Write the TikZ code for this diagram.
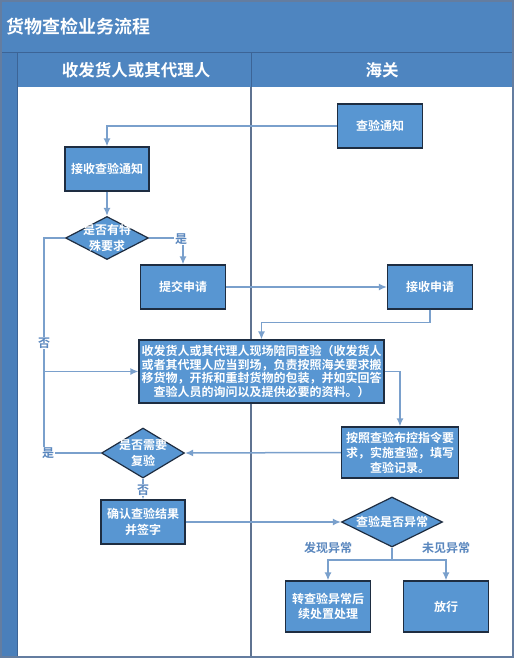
\documentclass[tikz,border=0pt]{standalone}
\usepackage{fontspec}
\setmainfont{Noto Sans CJK SC}[BoldFont={Noto Sans CJK SC Bold}]
\usetikzlibrary{shapes.geometric,arrows.meta}
\definecolor{band}{RGB}{78,133,192}
\definecolor{strip}{RGB}{74,127,186}
\definecolor{bandline}{RGB}{60,100,150}
\definecolor{boxfill}{RGB}{88,150,210}
\definecolor{boxline}{RGB}{30,45,65}
\definecolor{conn}{RGB}{122,160,204}
\definecolor{lbl}{RGB}{90,135,190}
\definecolor{framec}{RGB}{100,125,160}
\definecolor{divider}{RGB}{95,115,145}
\begin{document}
\begin{tikzpicture}[x=1pt,y=-1pt,
  box/.style={draw=boxline,fill=boxfill,line width=1.2pt,text=white,font={\bfseries\fontsize{12pt}{15pt}\selectfont},align=center,inner sep=0pt},
  dia/.style={diamond,draw=boxline,fill=boxfill,line width=1.2pt,inner sep=0pt},
  dtext/.style={text=white,font={\bfseries\fontsize{12pt}{16pt}\selectfont},align=center,inner sep=0pt},
  link/.style={draw=conn,line width=1.5pt,-{Latex[length=8pt,width=7pt]}},
  plainlink/.style={draw=conn,line width=1.5pt},
  lab/.style={text=lbl,font={\bfseries\fontsize{12pt}{14pt}\selectfont},inner sep=1pt},
  head/.style={text=white,font={\bfseries\fontsize{16.5pt}{18pt}\selectfont},inner sep=0pt},
]
\useasboundingbox (0,0) rectangle (516,659);
% background
\fill[white] (1,1) rectangle (513,657);
\fill[band] (1,1) rectangle (513,52);
\fill[band] (17,52) rectangle (513,87);
\fill[strip] (1,52) rectangle (17,657);
\draw[bandline,line width=1pt] (1,52) -- (513,52);
\draw[bandline,line width=1pt] (17,52) -- (17,657);
\draw[bandline,line width=1pt] (251,52) -- (251,87);
\draw[divider,line width=1.2pt] (251,87) -- (251,657);
\draw[framec,line width=1.2pt] (1,1) rectangle (513,657);
% titles
\node[head,anchor=west,font={\bfseries\fontsize{18pt}{20pt}\selectfont}] (title) at (6,27) {货物查检业务流程};
\node[head] (h1) at (136,70) {收发货人或其代理人};
\node[head] (h2) at (382,70) {海关};
% nodes
\node[box,minimum width=85pt,minimum height=44pt] (tz) at (380,126) {查验通知};
\node[box,minimum width=84pt,minimum height=44pt] (js) at (107,169) {接收查验通知};
\node[dia,minimum width=83pt,minimum height=43pt] (d1) at (107,238) {};
\node[dtext] (d1t) at (d1) {是否有特\\殊要求};
\node[box,minimum width=85pt,minimum height=44pt] (tj) at (183,287) {提交申请};
\node[box,minimum width=85pt,minimum height=44pt] (sq) at (430,287) {接收申请};
\node[box,minimum width=245pt,minimum height=63pt,font={\bfseries\fontsize{12pt}{13.5pt}\selectfont}] (big) at (261.5,371.5) {收发货人或其代理人现场陪同查验（收发货人\\或者其代理人应当到场，负责按照海关要求搬\\移货物，开拆和重封货物的包装，并如实回答\\查验人员的询问以及提供必要的资料。）};
\node[box,minimum width=117pt,minimum height=51pt] (cy) at (400,452.5) {按照查验布控指令要\\求，实施查验，填写\\查验记录。};
\node[dia,minimum width=83pt,minimum height=50pt] (d2) at (143,453) {};
\node[dtext] (d2t) at (d2) {是否需要\\复验};
\node[box,minimum width=84pt,minimum height=44pt,font={\bfseries\fontsize{12pt}{16pt}\selectfont}] (qr) at (143,522) {确认查验结果\\并签字};
\node[dia,minimum width=101pt,minimum height=50pt] (d3) at (392,522) {};
\node[dtext] (d3t) at (d3) {查验是否异常};
\node[box,minimum width=85pt,minimum height=51pt] (yc) at (328,606.5) {转查验异常后\\续处置处理};
\node[box,minimum width=85pt,minimum height=51pt] (fx) at (446,606.5) {放行};
% connectors
\coordinate (lt) at (44,238);
\draw[link] (tz.west) -| (js.north);
\draw[link] (js.south) -- (d1.north);
\draw[link] (d1.east) -| (tj.north);
\draw[link] (d1.west) -- (lt) |- (big.west);
\draw[link] (tj.east) -- (sq.west);
\draw[link] (sq.south) -- ++(0,13) -| (big.north);
\draw[link] (big.east) -| (cy.north);
\draw[link] (cy.west) -- (d2.east);
\draw[plainlink] (d2.west) -| (lt |- big.west);
\draw[link] (d2.south) -- (qr.north);
\draw[link] (qr.east) -- (d3.west);
\coordinate (sp) at (392,560);
\draw[plainlink] (d3.south) -- (sp);
\draw[link] (sp) -| (yc.north);
\draw[link] (sp) -| (fx.north);
% labels
\node[lab,fill=white] (l1) at (181,239) {是};
\node[lab,fill=white] (l2) at (44,343) {否};
\node[lab,fill=white] (l3) at (48,453) {是};
\node[lab,fill=white] (l4) at (143,490) {否};
\node[lab] (l5) at (328,548) {发现异常};
\node[lab] (l6) at (446,548) {未见异常};
\end{tikzpicture}
\end{document}
